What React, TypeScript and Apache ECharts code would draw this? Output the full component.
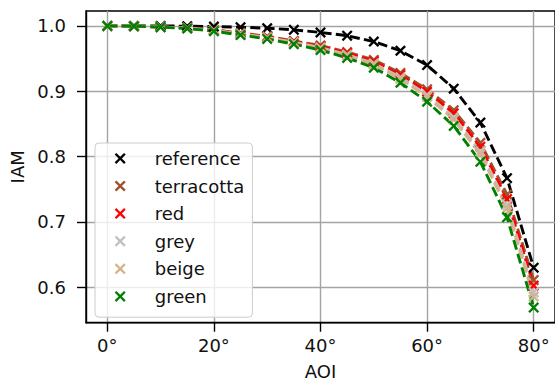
import React, { useEffect, useRef } from 'react';
import * as echarts from 'echarts';

const aoi = [0, 5, 10, 15, 20, 25, 30, 35, 40, 45, 50, 55, 60, 65, 70, 75, 80];

const reference = [1.0, 1.0, 0.9999, 0.9996, 0.999, 0.998, 0.9965, 0.994, 0.99, 0.985, 0.976, 0.962, 0.94, 0.904, 0.852, 0.767, 0.63];
const terracotta = [1.0, 0.9995, 0.9985, 0.997, 0.994, 0.989, 0.984, 0.977, 0.97, 0.96, 0.948, 0.928, 0.903, 0.871, 0.821, 0.742, 0.611];
const red = [1.0, 0.9995, 0.9984, 0.9968, 0.9936, 0.9884, 0.9832, 0.976, 0.9686, 0.9582, 0.9456, 0.925, 0.8992, 0.8662, 0.8152, 0.735, 0.6026];
const grey = [1.0, 0.9995, 0.9983, 0.9966, 0.9931, 0.9877, 0.9822, 0.9748, 0.9669, 0.956, 0.9426, 0.9213, 0.8945, 0.8602, 0.808, 0.7263, 0.5921];
const beige = [1.0, 0.9995, 0.9982, 0.9964, 0.9928, 0.9872, 0.9816, 0.974, 0.9658, 0.9546, 0.9408, 0.919, 0.8916, 0.8566, 0.8036, 0.721, 0.5858];
const green = [1.0, 0.9995, 0.998, 0.996, 0.992, 0.986, 0.98, 0.972, 0.963, 0.951, 0.936, 0.913, 0.884, 0.847, 0.792, 0.707, 0.569];

const seriesNames = ['reference', 'terracotta', 'red', 'grey', 'beige', 'green'];
const seriesValues = [reference, terracotta, red, grey, beige, green];
const seriesColors = ['#000000', '#a0522d', '#ff0000', '#c0c0c0', '#d2b48c', '#008000'];

const xTicks = [0, 20, 40, 60, 80];
const yTicks = [0.6, 0.7, 0.8, 0.9, 1.0];

const X_PATH = 'path://M0,1.5L1.5,0L5,3.5L8.5,0L10,1.5L6.5,5L10,8.5L8.5,10L5,6.5L1.5,10L0,8.5L3.5,5Z';
const FONT = 'DejaVu Sans';

export default function App() {
  const ref = useRef<HTMLDivElement>(null);
  useEffect(() => {
    if (!ref.current) return;
    const chart = echarts.init(ref.current, undefined, { renderer: 'svg' });
    const axisText = { fontSize: 18, color: '#111', fontFamily: FONT };
    chart.setOption({
      animation: false,
      grid: { left: 86, right: 0, top: 11, bottom: 66.3, show: true, borderColor: '#000', borderWidth: 1.4 },
      xAxis: {
        type: 'value',
        min: -4,
        max: 84,
        axisLine: { show: true, onZero: false, lineStyle: { color: '#000', width: 1.4 } },
        axisTick: { show: true, customValues: xTicks, length: 9, lineStyle: { color: '#000', width: 1.4 } },
        axisLabel: { customValues: xTicks, formatter: (v: number) => `${v}°`, margin: 14, ...axisText },
        splitLine: { show: true, lineStyle: { color: '#a4a4a4', width: 1.4 } },
        name: 'AOI',
        nameLocation: 'middle',
        nameGap: 40,
        nameTextStyle: axisText,
      },
      yAxis: {
        type: 'value',
        min: 0.5458,
        max: 1.0228,
        axisLine: { show: true, onZero: false, lineStyle: { color: '#000', width: 1.4 } },
        axisTick: { show: true, customValues: yTicks, length: 9, lineStyle: { color: '#000', width: 1.4 } },
        axisLabel: { customValues: yTicks, formatter: (v: number) => v.toFixed(1), margin: 20, ...axisText },
        splitLine: { show: true, lineStyle: { color: '#a4a4a4', width: 1.4 } },
        name: 'IAM',
        nameLocation: 'middle',
        nameGap: 57,
        nameTextStyle: axisText,
      },
      legend: {
        orient: 'vertical',
        left: 95,
        top: 143,
        padding: [6.4, 8, 11.8, 19.7],
        itemGap: 9.6,
        itemWidth: 11,
        itemHeight: 11,
        icon: X_PATH,
        backgroundColor: 'rgba(255,255,255,0.8)',
        borderColor: '#cccccc',
        borderWidth: 1,
        borderRadius: 4,
        itemStyle: { borderWidth: 0 },
        textStyle: { fontSize: 18, color: '#111', fontFamily: FONT, lineHeight: 14, padding: [0, 0, 0, 24] },
        data: seriesNames,
      },
      series: seriesNames.map((name, i) => ({
        name,
        type: 'line',
        data: aoi.map((a, j) => [a, seriesValues[i][j]]),
        symbol: X_PATH,
        symbolSize: 11,
        showSymbol: true,
        itemStyle: { color: seriesColors[i], borderWidth: 0 },
        lineStyle: { color: seriesColors[i], width: 2.9, type: [10, 4.3] },
        emphasis: { disabled: true },
      })),
    });
    return () => chart.dispose();
  }, []);
  return <div ref={ref} style={{ position: 'absolute', left: 0, top: 0, width: 555, height: 389 }} />;
}
